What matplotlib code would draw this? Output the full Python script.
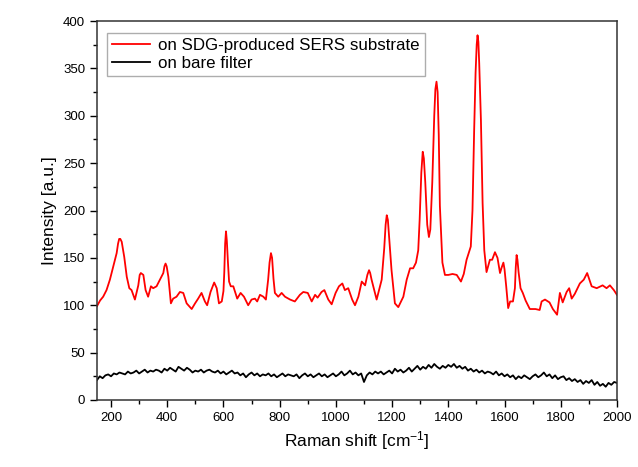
import numpy as np
import matplotlib
matplotlib.use("Agg")
import matplotlib.pyplot as plt
from matplotlib.ticker import MultipleLocator

plt.rcParams['font.family'] = ['Liberation Sans', 'DejaVu Sans']
plt.rcParams['mathtext.default'] = 'regular'

# red spectrum (SERS substrate)
sers_x = [150, 161, 172, 184, 196, 208, 220, 225, 229, 233, 238, 247, 256, 265, 273, 285, 297, 302, 306, 315, 323, 332, 342,
          350, 362, 374, 386, 390, 394, 398, 404, 413, 421, 433, 445, 457, 469, 487, 499, 510, 522, 534, 542, 554, 567,
          576, 584, 594, 600, 603, 606, 609, 612, 616, 620, 626, 635, 649, 661, 673, 688, 700, 712, 720, 730, 742, 751, 759, 764, 769,
          773, 778, 783, 795, 807, 819, 837, 854, 872, 884, 900, 914, 926, 935, 949, 959, 973, 985, 999, 1011, 1023, 1032,
          1044, 1058, 1068, 1080, 1092, 1104, 1112, 1118, 1122, 1127, 1145, 1163, 1172, 1177, 1181, 1185, 1190, 1198, 1210, 1222, 1240, 1252, 1264, 1275,
          1285, 1293, 1298, 1304, 1309, 1313, 1318, 1325, 1331, 1336, 1343, 1350, 1354, 1358, 1362, 1366, 1370, 1379, 1388, 1400, 1415, 1430, 1445, 1455, 1465,
          1480, 1486, 1492, 1497, 1501, 1504, 1507, 1510, 1516, 1522, 1528, 1536, 1548, 1556, 1566, 1575, 1584, 1590, 1596, 1600, 1606, 1613, 1620,
          1630, 1637, 1640, 1643, 1646, 1650, 1657, 1665, 1675, 1690, 1710, 1725, 1732, 1744, 1760, 1772, 1787, 1797, 1807, 1821, 1830, 1839,
          1850, 1868, 1882, 1894, 1910, 1928, 1949, 1963, 1975, 1989, 2000]
sers_y = [99, 105, 109, 116, 127, 141, 155, 165, 170, 170, 167, 151, 130, 118, 116, 106, 121, 132, 134, 132, 116, 109, 120,
          118, 120, 127, 134, 141, 144, 141, 130, 102, 107, 109, 114, 113, 102, 96, 102, 107, 113, 104, 100, 114, 124,
          118, 102, 104, 115, 135, 165, 178, 168, 145, 125, 120, 120, 107, 113, 109, 100, 106, 107, 104, 111, 109, 106, 127, 145, 155,
          150, 128, 113, 109, 113, 109, 106, 104, 111, 114, 113, 104, 111, 108, 114, 116, 106, 101, 113, 120, 123, 116,
          118, 106, 100, 109, 125, 121, 132, 137, 134, 127, 106, 127, 160, 185, 195, 190, 170, 137, 102, 98, 109, 127, 139, 139,
          145, 158, 190, 240, 262, 255, 230, 185, 172, 180, 230, 300, 328, 336, 325, 280, 205, 145, 132, 132, 133, 132, 125, 133, 148,
          162, 200, 285, 345, 375, 385, 378, 355, 296, 208, 158, 135, 148, 148, 156, 150, 134, 140, 145, 138, 120, 97, 104,
          104, 118, 140, 153, 148, 135, 118, 113, 105, 96, 96, 95, 104, 106, 103, 96, 90, 113, 103, 114, 118, 107,
          112, 123, 127, 134, 120, 118, 121, 118, 121, 116, 111]

# black spectrum (bare filter), every 10 cm-1
bare_x = np.arange(150, 2001, 10)
bare_y = [21, 25, 23, 26, 27, 25, 28, 27, 29, 28,
          27, 30, 28, 29, 31, 28, 30, 32, 29, 31,
          30, 32, 31, 29, 33, 31, 34, 32, 30, 35,
          33, 31, 34, 32, 29, 31, 30, 32, 29, 31,
          32, 30, 29, 31, 28, 30, 27, 29, 31, 28,
          29, 26, 28, 24, 27, 29, 26, 28, 25, 27,
          26, 28, 25, 27, 24, 26, 28, 25, 27, 26,
          25, 27, 23, 26, 28, 25, 27, 24, 26, 28,
          25, 27, 24, 26, 28, 25, 27, 30, 26, 28,
          31, 27, 29, 26, 28, 19, 26, 29, 27, 30,
          28, 30, 27, 29, 31, 28, 33, 30, 32, 29,
          31, 34, 30, 33, 36, 32, 35, 33, 37, 34,
          38, 35, 33, 36, 34, 37, 35, 38, 34, 36,
          33, 35, 31, 33, 30, 32, 29, 31, 28, 30,
          29, 27, 30, 26, 28, 25, 27, 24, 26, 22,
          25, 23, 26, 24, 22, 25, 27, 24, 26, 29,
          25, 27, 23, 26, 22, 24, 25, 21, 23, 20,
          22, 19, 21, 17, 20, 18, 21, 16, 19, 15,
          17, 14, 18, 16, 19, 18]

fig = plt.figure(figsize=(6.38, 4.67), dpi=100)
ax = fig.add_axes([0.152, 0.1435, 0.815, 0.8115])

ax.plot(sers_x, sers_y, color='#ff0000', lw=1.3, label='on SDG-produced SERS substrate')
ax.plot(bare_x, bare_y, color='black', lw=1.3, label='on bare filter')

ax.set_xlim(150, 2000)
ax.set_ylim(0, 400)
ax.xaxis.set_major_locator(MultipleLocator(200))
ax.xaxis.set_minor_locator(MultipleLocator(100))
ax.yaxis.set_major_locator(MultipleLocator(50))
ax.yaxis.set_minor_locator(MultipleLocator(25))
ax.tick_params(which='both', direction='out', top=False, right=False, labelsize=9.5, width=1)
ax.tick_params(which='major', length=5)
ax.tick_params(which='minor', length=3)
for s in ax.spines.values():
    s.set_linewidth(1.1)
    s.set_color('#333333')

ax.set_xlabel('Raman shift [cm$^{-1}$]', fontsize=12.5)
ax.set_ylabel('Intensity [a.u.]', fontsize=12.5)

leg = ax.legend(loc='upper left', bbox_to_anchor=(0.02, 0.968), borderaxespad=0,
                fontsize=12.2, fancybox=False, edgecolor='#999999', handlelength=2.2,
                handletextpad=0.5, borderpad=0.3, labelspacing=0.15)
leg.get_frame().set_linewidth(1.0)

fig.savefig('out.png', dpi=100)
